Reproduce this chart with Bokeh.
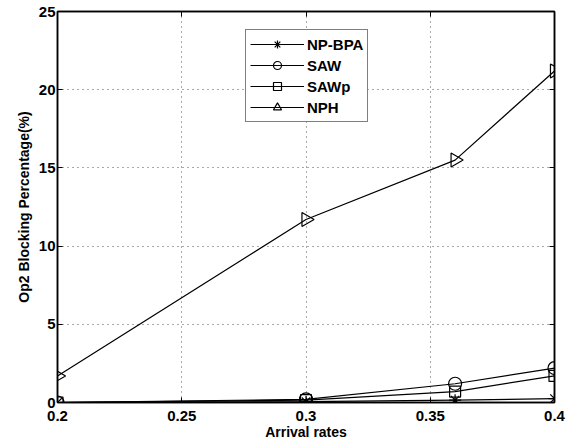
import math
from bokeh.plotting import figure
from bokeh.models import Range1d, FixedTicker, Legend, LegendItem, LinearAxis
from bokeh.embed import file_html
from bokeh.resources import INLINE

x_vals = [0.2, 0.3, 0.36, 0.4]
np_bpa = [0.0, 0.05, 0.15, 0.25]
saw = [0.0, 0.2, 1.2, 2.2]
sawp = [0.0, 0.15, 0.7, 1.7]
nph = [1.7, 11.7, 15.5, 21.2]
x_ticks = [0.2, 0.25, 0.3, 0.35, 0.4]
y_ticks = [0, 5, 10, 15, 20, 25]

FONT = "Liberation Sans"

p = figure(width=571, height=446, output_backend="svg", toolbar_location=None,
           x_range=Range1d(0.2, 0.4), y_range=Range1d(0, 25),
           min_border_left=57, min_border_right=17, min_border_top=11, min_border_bottom=44)
p.background_fill_color = "white"
p.outline_line_color = "black"
p.outline_line_width = 1.5

for ax in (p.xaxis[0], p.yaxis[0]):
    ax.major_tick_in = 5
    ax.major_tick_out = 0
    ax.minor_tick_line_color = None
    ax.axis_line_color = "black"
    ax.axis_line_width = 1.5
    ax.major_label_text_font = FONT
    ax.major_label_text_font_style = "bold"
    ax.major_label_text_font_size = "15px"
    ax.major_label_text_color = "black"
    ax.axis_label_text_font = FONT
    ax.axis_label_text_font_style = "bold"
    ax.axis_label_text_font_size = "14px"
    ax.axis_label_text_color = "black"

p.xaxis.ticker = FixedTicker(ticks=x_ticks)
p.yaxis.ticker = FixedTicker(ticks=y_ticks)
p.xaxis.major_label_standoff = 8
p.yaxis.major_label_standoff = 2
p.xaxis.axis_label = "Arrival rates"
p.yaxis.axis_label = "Op2 Blocking Percentage(%)"
p.xaxis.axis_label_standoff = 0
p.yaxis.axis_label_standoff = 4

# mirrored tick marks on top and right (drawn as minor ticks, so no labels)
top_ax = LinearAxis(ticker=FixedTicker(ticks=[], minor_ticks=x_ticks),
                    major_tick_line_color=None, minor_tick_in=5, minor_tick_out=0,
                    minor_tick_line_color="black", axis_line_color="black", axis_line_width=1.5)
right_ax = LinearAxis(ticker=FixedTicker(ticks=[], minor_ticks=y_ticks),
                      major_tick_line_color=None, minor_tick_in=5, minor_tick_out=0,
                      minor_tick_line_color="black", axis_line_color="black", axis_line_width=1.5)
p.add_layout(top_ax, "above")
p.add_layout(right_ax, "right")

p.grid.grid_line_color = "#555555"
p.grid.grid_line_dash = "1 4"
p.grid.grid_line_width = 1

lw = 1.2
items = []
l1 = p.line(x_vals, np_bpa, line_color="black", line_width=lw)
m1 = p.scatter(x_vals, np_bpa, marker="asterisk", size=12, line_color="black", line_width=1.2)
items.append(LegendItem(label="NP-BPA", renderers=[l1, m1]))
l2 = p.line(x_vals, saw, line_color="black", line_width=lw)
m2 = p.scatter(x_vals, saw, marker="circle", size=13, line_color="black", fill_color=None, line_width=1.2)
items.append(LegendItem(label="SAW", renderers=[l2, m2]))
l3 = p.line(x_vals, sawp, line_color="black", line_width=lw)
m3 = p.scatter(x_vals, sawp, marker="square", size=11, line_color="black", fill_color=None, line_width=1.2)
items.append(LegendItem(label="SAWp", renderers=[l3, m3]))
l4 = p.line(x_vals, nph, line_color="black", line_width=lw)
m4 = p.scatter(x_vals, nph, marker="triangle", size=14, angle=-math.pi/2, line_color="black", fill_color=None, line_width=1.2)
items.append(LegendItem(label="NPH", renderers=[l4, m4]))

legend = Legend(items=items, location=(188, 280))
legend.border_line_color = "black"
legend.border_line_width = 1.5
legend.label_text_font = FONT
legend.label_text_font_style = "bold"
legend.label_text_font_size = "15px"
legend.label_text_color = "black"
legend.glyph_width = 54
legend.glyph_height = 20
legend.label_height = 20
legend.label_standoff = 3
legend.spacing = 1
legend.padding = 4
legend.margin = 0
p.add_layout(legend, "center")

open("out.html", "w").write(file_html(p, INLINE))
